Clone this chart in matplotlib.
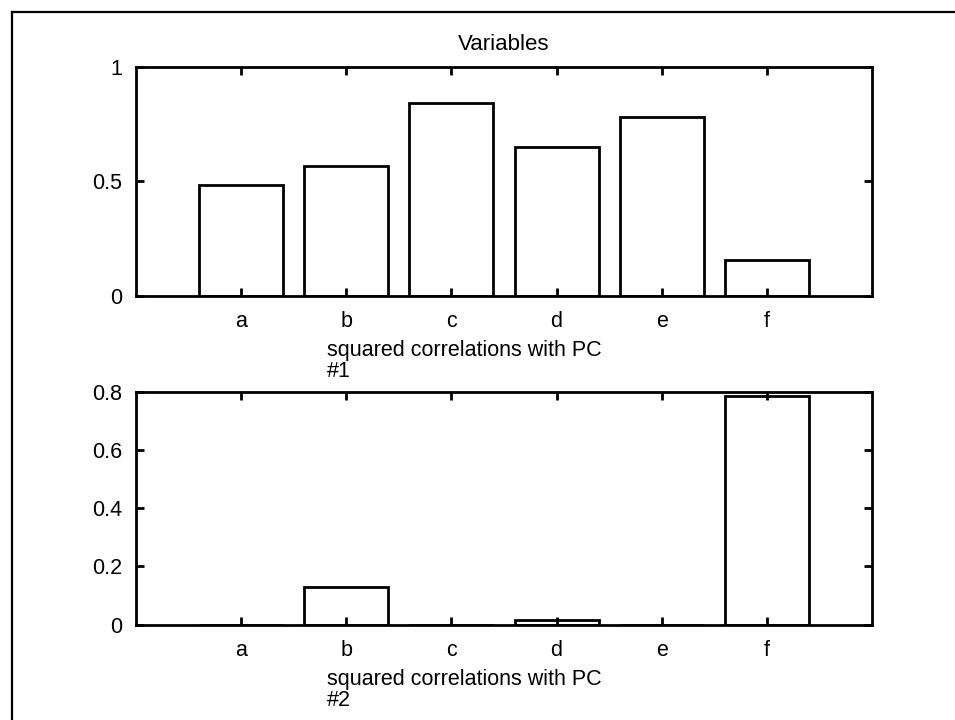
import matplotlib.pyplot as plt
from matplotlib.lines import Line2D

plt.rcParams['font.family'] = ['Liberation Sans', 'DejaVu Sans']

variables = ['a', 'b', 'c', 'd', 'e', 'f']
pc1_sq_corr = [0.483, 0.568, 0.840, 0.648, 0.779, 0.156]
pc2_sq_corr = [0.0, 0.128, 0.0, 0.015, 0.0, 0.786]
pc1_yticks = [0, 0.5, 1]
pc1_yticklabels = ['0', '0.5', '1']
pc2_yticks = [0, 0.2, 0.4, 0.6, 0.8]
pc2_yticklabels = ['0', '0.2', '0.4', '0.6', '0.8']

fig = plt.figure(figsize=(9.55, 7.2), dpi=100)

# scanned page frame (only top and left edges visible)
fig.add_artist(Line2D([12 / 955, 1], [1 - 12 / 720] * 2, transform=fig.transFigure,
                      color='black', lw=1.6))
fig.add_artist(Line2D([12 / 955] * 2, [0, 1 - 12 / 720], transform=fig.transFigure,
                      color='black', lw=1.6))

ax1 = fig.add_axes([0.1424, 0.5893, 0.7707, 0.3183])
ax2 = fig.add_axes([0.1424, 0.1326, 0.7707, 0.3229])

x = range(1, len(variables) + 1)
fs = 15.5

def style(ax, values, yticks, ylabels, ymax, label):
    ax.bar(x, values, width=0.8, facecolor='white', edgecolor='black', linewidth=2)
    ax.set_xlim(0, 7)
    ax.set_ylim(0, ymax)
    ax.set_xticks(list(x))
    ax.set_xticklabels(variables)
    ax.set_yticks(yticks)
    ax.set_yticklabels(ylabels)
    ax.tick_params(direction='in', top=True, right=True, length=6, width=2,
                   labelsize=fs)
    ax.tick_params(axis='x', pad=11)
    ax.tick_params(axis='y', pad=10)
    for s in ax.spines.values():
        s.set_linewidth(2)
    # label sits below the tick labels, left-aligned like the original
    ax.annotate(label, xy=(0.2595, 0), xycoords='axes fraction',
                xytext=(0, -32), textcoords='offset points',
                ha='left', va='top', fontsize=fs, linespacing=1.0)

style(ax1, pc1_sq_corr, pc1_yticks, pc1_yticklabels, 1, 'squared correlations with PC\n#1')
style(ax2, pc2_sq_corr, pc2_yticks, pc2_yticklabels, 0.8, 'squared correlations with PC\n#2')

ax1.set_title('Variables', fontsize=16, pad=12)

fig.savefig('out.png', dpi=100)
